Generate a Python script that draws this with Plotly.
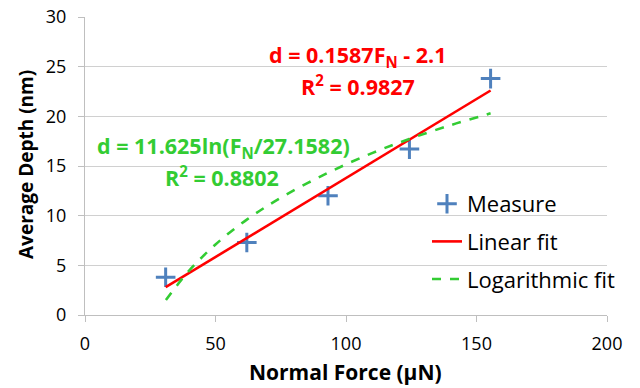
import plotly.graph_objects as go

# Measured data
force = [30.9, 62.0, 93.1, 124.3, 155.4]
depth = [3.8, 7.3, 12.0, 16.7, 23.8]

# Linear fit line (endpoints)
lin_x = [30.9, 155.4]
lin_y = [2.8, 22.6]

# Logarithmic fit curve
log_x = [31, 35, 40, 50, 62, 75, 93, 110, 124, 140, 155.4]
log_y = [1.5, 2.9, 4.5, 7.1, 9.6, 11.8, 14.3, 16.3, 17.7, 19.1, 20.3]

x_ticks = [0, 50, 100, 150, 200]
y_ticks = [0, 5, 10, 15, 20, 25, 30]

FONT = "Open Sans"
OFF = 8  # page body margin
L, R, T, B = 85 - OFF, 41, 17 - OFF, 81
W, H = 640, 388
PW, PH = W - L - R, H - T - B

fig = go.Figure()
fig.add_trace(go.Scatter(
    x=force, y=depth, mode="markers", name="Measure", legendgroup="a",
    marker=dict(symbol="cross-thin", size=14, line=dict(width=3, color="#4F81BD"), color="#4F81BD"),
))
fig.add_trace(go.Scatter(
    x=lin_x, y=lin_y, mode="lines", name="Linear fit", legendgroup="b",
    line=dict(color="#FF0000", width=2.6),
))
fig.add_trace(go.Scatter(
    x=log_x, y=log_y, mode="lines", name="Logarithmic fit", legendgroup="c",
    line=dict(color="#33CC33", width=2.6, dash="dash", shape="spline"),
))

def px_to_paper(px, py):
    # px, py are page pixel positions in the reference
    fx, fy = px - OFF, py - OFF
    return ((fx - L) / float(PW), (H - B - fy) / float(PH))

anns = [
    ("d = 0.1587F<sub>N</sub> - 2.1", 358, 56, "#FF0000"),
    ("R<sup>2</sup> = 0.9827", 358, 85, "#FF0000"),
    ("d = 11.625ln(F<sub>N</sub>/27.1582)", 223, 147, "#33CC33"),
    ("R<sup>2</sup> = 0.8802", 222, 176, "#33CC33"),
]
for t, px, py, c in anns:
    ax, ay = px_to_paper(px, py)
    fig.add_annotation(x=ax, y=ay, xref="paper", yref="paper", text="<b>%s</b>" % t,
                       showarrow=False, font=dict(family=FONT, size=21.5, color=c),
                       xanchor="center", yanchor="middle")

# axis titles placed manually
tx, ty = px_to_paper(345, 372)
fig.add_annotation(x=tx, y=ty, xref="paper", yref="paper", text="<b>Normal Force (µN)</b>",
                   showarrow=False, font=dict(family=FONT, size=21, color="black"),
                   xanchor="center", yanchor="middle")
tx, ty = px_to_paper(26, 165)
fig.add_annotation(x=tx, y=ty, xref="paper", yref="paper", text="<b>Average Depth (nm)</b>",
                   showarrow=False, textangle=-90, font=dict(family=FONT, size=19, color="black"),
                   xanchor="center", yanchor="middle")

lx, ly = px_to_paper(427, 183)
fig.update_layout(
    width=W, height=H,
    margin=dict(l=L, r=R, t=T, b=B, autoexpand=False),
    paper_bgcolor="white", plot_bgcolor="white",
    font=dict(family=FONT, size=18, color="black"),
    legend=dict(x=lx, y=ly, xanchor="left", yanchor="top",
                bgcolor="rgba(0,0,0,0)", font=dict(size=22, color="black"),
                tracegroupgap=6),
    xaxis=dict(range=[0, 200], tickvals=x_ticks, showgrid=False, zeroline=False,
               showline=True, linecolor="#BFBFBF", linewidth=1, automargin=False,
               ticks="outside", ticklen=6, tickcolor="#BFBFBF", ticklabeloverflow="allow",
               ticklabelstandoff=6, tickfont=dict(size=18)),
    yaxis=dict(range=[0, 30], tickvals=y_ticks, showgrid=True, gridcolor="#D0D0D0",
               zeroline=False, showline=True, linecolor="#BFBFBF", linewidth=1, automargin=False,
               ticks="outside", ticklen=6, tickcolor="#BFBFBF", ticklabeloverflow="allow",
               ticklabelstandoff=8, tickfont=dict(size=18)),
)

fig.write_html("out.html")
